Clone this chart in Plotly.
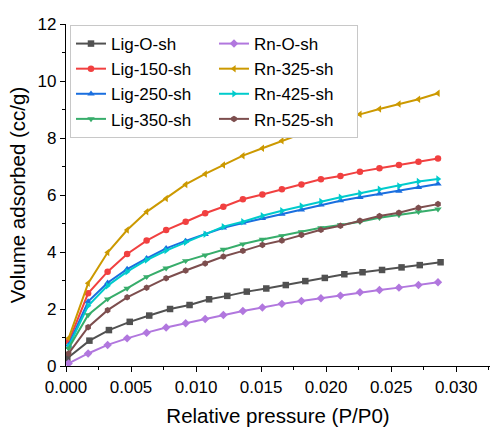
import plotly.graph_objects as go

# Relative pressure (P/P0)
x_common = [0.0002, 0.0017, 0.0032, 0.0047, 0.0062, 0.0077, 0.0092, 0.0107, 0.0121, 0.0136,
            0.0151, 0.0166, 0.0181, 0.0196, 0.0211, 0.0226, 0.0241, 0.0256, 0.0271, 0.0286]
x_lig0 = [0.0001, 0.0018, 0.0033, 0.0049, 0.0064, 0.0080, 0.0095, 0.0110, 0.0124, 0.0139,
          0.0154, 0.0169, 0.0184, 0.0199, 0.0214, 0.0228, 0.0243, 0.0258, 0.0272, 0.0288]

lig_o_sh = [0.27, 0.89, 1.26, 1.55, 1.77, 2.00, 2.14, 2.34, 2.46, 2.61,
            2.72, 2.84, 2.98, 3.09, 3.22, 3.29, 3.37, 3.46, 3.54, 3.64]
lig_150_sh = [0.85, 2.55, 3.31, 3.93, 4.40, 4.77, 5.06, 5.36, 5.59, 5.85,
              6.02, 6.20, 6.37, 6.55, 6.67, 6.82, 6.94, 7.05, 7.17, 7.28]
lig_250_sh = [0.74, 2.26, 2.92, 3.40, 3.78, 4.13, 4.39, 4.62, 4.85, 5.02,
              5.18, 5.33, 5.48, 5.65, 5.80, 5.92, 6.04, 6.14, 6.27, 6.39]
lig_350_sh = [0.62, 1.79, 2.35, 2.72, 3.13, 3.43, 3.69, 3.89, 4.09, 4.28,
              4.44, 4.57, 4.71, 4.85, 4.95, 5.06, 5.20, 5.30, 5.41, 5.50]
rn_o_sh = [0.09, 0.44, 0.74, 0.97, 1.17, 1.35, 1.50, 1.65, 1.79, 1.93,
           2.05, 2.18, 2.28, 2.38, 2.47, 2.59, 2.67, 2.75, 2.84, 2.94]
rn_325_sh = [0.97, 2.90, 3.98, 4.77, 5.41, 5.88, 6.37, 6.74, 7.05, 7.38,
             7.64, 7.90, 8.15, 8.40, 8.60, 8.83, 9.02, 9.19, 9.36, 9.57]
rn_425_sh = [0.68, 2.11, 2.82, 3.31, 3.72, 4.05, 4.34, 4.62, 4.89, 5.06,
             5.27, 5.45, 5.61, 5.77, 5.92, 6.06, 6.20, 6.32, 6.47, 6.56]
rn_525_sh = [0.44, 1.36, 1.96, 2.41, 2.75, 3.08, 3.35, 3.60, 3.84, 4.04,
             4.25, 4.40, 4.60, 4.78, 4.92, 5.10, 5.26, 5.38, 5.55, 5.68]

x_tick_vals = [0, 0.005, 0.01, 0.015, 0.02, 0.025, 0.03]
x_tick_text = ["0.000", "0.005", "0.010", "0.015", "0.020", "0.025", "0.030"]
y_tick_vals = [0, 2, 4, 6, 8, 10, 12]

# order arranged so that a 2-column horizontal legend shows Lig in column 1, Rn in column 2
series = [
    ("Lig-O-sh", x_lig0, lig_o_sh, "#515151", "square"),
    ("Rn-O-sh", x_common, rn_o_sh, "#B177DE", "diamond"),
    ("Lig-150-sh", x_common, lig_150_sh, "#F14040", "circle"),
    ("Rn-325-sh", x_common, rn_325_sh, "#CC9900", "triangle-left"),
    ("Lig-250-sh", x_common, lig_250_sh, "#1A6FDF", "triangle-up"),
    ("Rn-425-sh", x_common, rn_425_sh, "#00CBCC", "triangle-right"),
    ("Lig-350-sh", x_common, lig_350_sh, "#37AD6B", "triangle-down"),
    ("Rn-525-sh", x_common, rn_525_sh, "#7D4E4E", "hexagon"),
]

fig = go.Figure()
for name, xs, ys, color, sym in series:
    fig.add_trace(go.Scatter(
        x=xs, y=ys, name=name, mode="lines+markers",
        line=dict(color=color, width=2),
        marker=dict(symbol=sym, size=6.5, color=color),
    ))

font_family = "Liberation Sans, Arial, sans-serif"
fig.update_layout(
    width=491, height=427,
    margin=dict(l=66, r=1, t=24, b=61),
    paper_bgcolor="white", plot_bgcolor="white",
    font=dict(family=font_family, color="black", size=17),
    showlegend=True,
    legend=dict(
        orientation="h", x=0.0094, y=0.997, xanchor="left", yanchor="top",
        entrywidth=98, entrywidthmode="pixels",
        bordercolor="#c8c8c8", borderwidth=1, bgcolor="white",
        font=dict(size=17, family=font_family), traceorder="normal",
    ),
    xaxis=dict(
        range=[0, 0.0326], tickvals=x_tick_vals, ticktext=x_tick_text,
        showline=True, linecolor="black", linewidth=1.2, ticks="outside",
        ticklen=5, tickwidth=1.2, tickcolor="black", showgrid=False, zeroline=False,
        minor=dict(ticks="outside", ticklen=3, tickwidth=1, tickcolor="black", dtick=0.0025,
                   tick0=0, showgrid=False),
        title=dict(text="Relative pressure (P/P0)", font=dict(size=20.5), standoff=13),
        tickfont=dict(size=17),
    ),
    yaxis=dict(
        range=[0, 12], tickvals=y_tick_vals,
        showline=True, linecolor="black", linewidth=1.2, ticks="outside",
        ticklen=5, tickwidth=1.2, tickcolor="black", showgrid=False, zeroline=False,
        minor=dict(ticks="outside", ticklen=3, tickwidth=1, tickcolor="black", dtick=1,
                   tick0=0, showgrid=False),
        title=dict(text="Volume adsorbed (cc/g)", font=dict(size=20.5), standoff=6),
        tickfont=dict(size=17),
    ),
)

fig.write_html("out.html", config={"displayModeBar": False},
               post_script="document.body.style.margin='0';")
